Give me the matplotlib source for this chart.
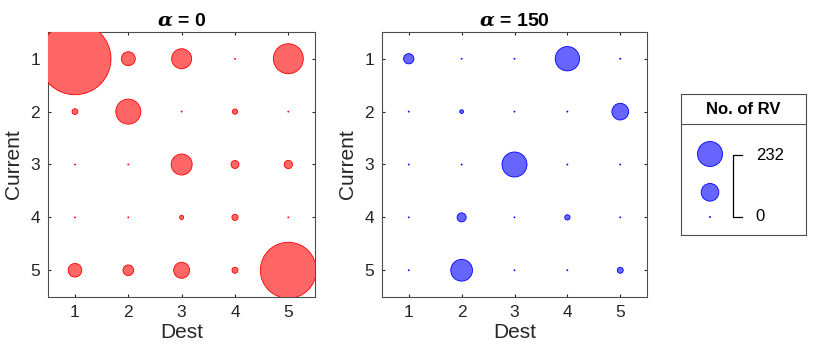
import matplotlib.pyplot as plt
import numpy as np

plt.rcParams['font.family'] = ['Liberation Sans', 'DejaVu Sans']
plt.rcParams['mathtext.fontset'] = 'custom'
plt.rcParams['mathtext.bfit'] = 'DejaVu Serif:bold:italic'

dest = [1, 2, 3, 4, 5]
current = [1, 2, 3, 4, 5]

# rows = Current, cols = Dest (number of RVs)
rv_alpha0 = np.array([
    [1927, 72, 148, 0, 334],
    [12, 232, 0, 10, 0],
    [0, 0, 164, 23, 25],
    [0, 0, 6, 14, 0],
    [69, 42, 95, 13, 1166],
])
rv_alpha150 = np.array([
    [39, 0, 0, 220, 0],
    [0, 5, 0, 0, 103],
    [0, 0, 232, 0, 0],
    [0, 30, 0, 10, 0],
    [0, 175, 0, 0, 13],
])
titles = [r'$\mathbfit{\alpha}$ = 0', r'$\mathbfit{\alpha}$ = 150']
legend_vals = [232, 116, 0]
size_lim = (0, 232)

W, H, DPI = 831, 356, 100
DMIN, DMAX = 1.0, 25.0  # bubble diameters in px


def bubble_area(v):
    v = np.asarray(v, dtype=float)
    d2 = DMIN ** 2 + (v - size_lim[0]) / (size_lim[1] - size_lim[0]) * (DMAX ** 2 - DMIN ** 2)
    d_pt = np.sqrt(d2) * 72.0 / DPI
    return d_pt ** 2


fig = plt.figure(figsize=(W / DPI, H / DPI), dpi=DPI)
text_col = '#262626'


def px_rect(x0, y0, x1, y1):
    return [x0 / W, 1 - y1 / H, (x1 - x0) / W, (y1 - y0) / H]


panels = [
    (rv_alpha0, '#ff0000', (1.0, 0.4, 0.4), px_rect(48.3, 32.3, 315, 296.7)),
    (rv_alpha150, '#0000ff', (0.4, 0.4, 1.0), px_rect(382.3, 32.3, 646.7, 296.7)),
]

for (vals, edge, face, rect), title in zip(panels, titles):
    ax = fig.add_axes(rect)
    xx, yy = np.meshgrid(dest, current)
    ax.scatter(xx.ravel(), yy.ravel(), s=bubble_area(vals.ravel()),
               facecolor=face, edgecolor=edge, linewidth=0.6, clip_on=True, zorder=3)
    ax.set_xlim(0.5, 5.5)
    ax.set_ylim(5.5, 0.5)
    ax.set_xticks(dest)
    ax.set_yticks(current)
    ax.tick_params(direction='in', top=True, right=True, length=2.5,
                   labelsize=12.5, colors=text_col, pad=6)
    for sp in ax.spines.values():
        sp.set_color('#4d4d4d')
        sp.set_linewidth(0.8)
    ax.set_xlabel('Dest', fontsize=15, color=text_col, labelpad=2)
    ax.set_ylabel('Current', fontsize=15, color=text_col, labelpad=5)
    ax.set_title(title, fontsize=14, fontweight='bold', color='black', pad=5)

# bubble size legend
lax = fig.add_axes(px_rect(680.7, 94, 805.7, 235))
lax.set_xlim(0, 125)
lax.set_ylim(141, 0)
lax.set_xticks([])
lax.set_yticks([])
for sp in lax.spines.values():
    sp.set_color('#4d4d4d')
    sp.set_linewidth(0.8)
lax.axhline(30.3, color='#4d4d4d', lw=0.8)
lax.text(62.5, 15.5, 'No. of RV', fontsize=12, fontweight='bold', ha='center', va='center')
lax.scatter([29.3, 29.3, 29.3], [60, 98.3, 123], s=bubble_area(legend_vals),
            facecolor=(0.4, 0.4, 1.0), edgecolor='#0000ff', linewidth=0.6)
lax.plot([61, 52.6, 52.6, 61], [61, 61, 122.7, 122.7], color='black', lw=0.9)
lax.text(75, 61, str(legend_vals[0]), fontsize=12, va='center', ha='left')
lax.text(75, 122.7, str(legend_vals[-1]), fontsize=12, va='center', ha='left')

fig.savefig('out.png', dpi=DPI)
